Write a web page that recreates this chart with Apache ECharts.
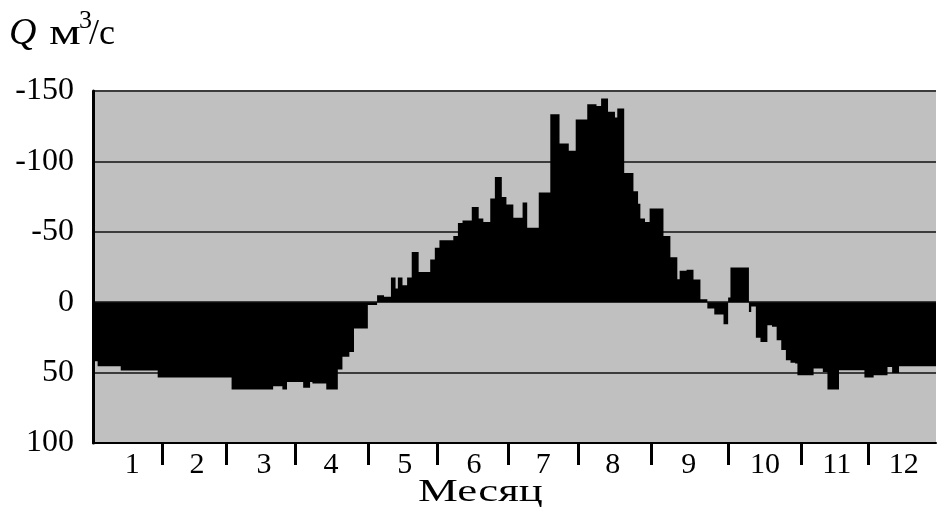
<!DOCTYPE html>
<html>
<head>
<meta charset="utf-8">
<script src="https://cdn.jsdelivr.net/npm/echarts@6/dist/echarts.min.js"></script>
<style>
  html, body { margin: 0; padding: 0; background: #ffffff; }
  #chart { width: 938px; height: 509px; }
</style>
</head>
<body>
<div id="chart"></div>
<script>
// Daily discharge Q, m3/s, one value per day of the year (positive values plot downward)
const jan = [42, 42,
  45.5, 45.5, 45.5, 45.5, 45.5, 45.5, 45.5, 45.5, 45.5, 45.5,
  48.5, 48.5, 48.5, 48.5, 48.5, 48.5, 48.5, 48.5,
  48.5, 48.5, 48.5, 48.5, 48.5, 48.5, 48.5, 48.5,
  53.5, 53.5, 53.5];
const feb = [53.5, 53.5, 53.5, 53.5, 53.5, 53.5, 53.5,
  53.5, 53.5, 53.5, 53.5, 53.5, 53.5, 53.5,
  53.5, 53.5, 53.5, 53.5, 53.5, 53.5, 53.5,
  53.5, 53.5, 53.5, 53.5, 53.5, 53.5, 53.5];
const mar = [53.5,
  62, 62, 62, 62, 62, 62, 62, 62, 62,
  62, 62, 62, 62, 62, 62, 62, 62, 62,
  59.7, 59.7, 59.7, 59.7,
  62, 62,
  56.6, 56.6, 56.6, 56.6, 56.6, 56.6];
const apr = [56.6,
  60.8, 60.8, 60.8,
  56.6,
  57.8, 57.8, 57.8, 57.8, 57.8, 57.8,
  62, 62, 62, 62, 62,
  47.8, 47.8,
  38.8, 38.8, 38.8,
  35.3, 35.3,
  18.7, 18.7, 18.7, 18.7, 18.7, 18.7,
  2];
const may = [2, 2, 2,
  -5, -5, -5,
  -3.8, -3.8, -3.8,
  -17.5, -17.5,
  -9.7,
  -17.5, -17.5,
  -12, -12,
  -17.5, -17.5,
  -35.7, -35.7, -35.7,
  -21.5, -21.5, -21.5, -21.5, -21.5,
  -30.3, -30.3,
  -38.6, -38.6,
  -44];
const jun = [-44, -44, -44, -44, -44,
  -47, -47,
  -56.3, -56.3,
  -58, -58, -58, -58,
  -67.7, -67.7, -67.7,
  -59.4, -59.4,
  -57, -57, -57,
  -73.6, -73.6,
  -89, -89, -89,
  -74.8, -74.8,
  -69.4, -69.4];
const jul = [-69.4,
  -60, -60, -60, -60,
  -70.8, -70.8,
  -52.8, -52.8, -52.8, -52.8, -52.8,
  -78, -78, -78, -78, -78,
  -133.5, -133.5, -133.5, -133.5,
  -112.7, -112.7, -112.7, -112.7,
  -107.5, -107.5, -107.5,
  -129.7, -129.7, -129.7];
const aug = [-129.7, -129.7,
  -140.6, -140.6, -140.6, -140.6,
  -139.4, -139.4,
  -144.7, -144.7, -144.7,
  -135.2, -135.2, -135.2,
  -131.2,
  -137.5, -137.5, -137.5,
  -91.8, -91.8, -91.8, -91.8,
  -78.8, -78.8,
  -70,
  -59.4, -59.4,
  -57, -57,
  -66.5, -66.5];
const sep = [-66.5, -66.5, -66.5, -66.5,
  -47, -47, -47,
  -32, -32, -32,
  -16.3,
  -22.3, -22.3, -22.3,
  -23, -23, -23,
  -16.2, -16.2, -16.2,
  -2.1, -2.1, -2.1,
  4.5, 4.5, 4.5,
  8.8, 8.8, 8.8, 8.8];
const oct = [15.6, 15.6,
  -3.3,
  -24.6, -24.6, -24.6, -24.6, -24.6, -24.6, -24.6, -24.6,
  7,
  3, 3,
  25.3, 25.3,
  28.2, 28.2, 28.2,
  16.3, 16.3,
  17.5, 17.5,
  27, 27,
  34, 34,
  41.2, 41.2,
  43, 43];
const nov = [43.6,
  51.8, 51.8, 51.8, 51.8, 51.8, 51.8, 51.8,
  47, 47, 47, 47,
  49.5, 49.5,
  62, 62, 62, 62, 62,
  48.3, 48.3, 48.3, 48.3, 48.3, 48.3, 48.3, 48.3, 48.3, 48.3, 48.3];
const dec = [53.5, 53.5, 53.5, 53.5,
  51.8, 51.8, 51.8, 51.8, 51.8, 51.8,
  46, 46,
  50.2, 50.2, 50.2,
  45.5, 45.5, 45.5, 45.5, 45.5, 45.5, 45.5, 45.5,
  45.5, 45.5, 45.5, 45.5, 45.5, 45.5, 45.5, 45.5];

const monthLabels = ['1', '2', '3', '4', '5', '6', '7', '8', '9', '10', '11', '12'];
// divider marks between months and month-number positions, in days from 1 January
const monthTickDays = [30, 57.5, 87.5, 119, 149, 180, 210, 241.5, 275, 306.5, 335.5];
const monthLabelDays = [17, 45, 74, 103, 135, 165, 195, 225, 258, 291, 322, 351];
const yTicks = [-150, -100, -50, 0, 50, 100];

const daily = [].concat(jan, feb, mar, apr, may, jun, jul, aug, sep, oct, nov, dec);
const dayNames = daily.map((_, i) => String(i + 1));

const SERIF = '"Liberation Serif", "DejaVu Serif", serif';

const chart = echarts.init(document.getElementById('chart'), null, { renderer: 'canvas' });
chart.setOption({
  animation: false,
  backgroundColor: '#ffffff',
  grid: {
    left: 93, right: 2, top: 91, bottom: 66,
    containLabel: false,
    outerBoundsMode: 'none',
    show: true, backgroundColor: '#c0c0c0', borderWidth: 0
  },
  xAxis: [
    {
      type: 'category',
      data: dayNames,
      position: 'top',
      boundaryGap: true,
      show: false
    },
    {
      type: 'value',
      min: 0,
      max: daily.length,
      position: 'bottom',
      axisLine: { show: true, onZero: false, lineStyle: { color: '#000', width: 2 } },
      axisTick: {
        show: true, inside: false, length: 22,
        customValues: monthTickDays,
        lineStyle: { color: '#000', width: 3 }
      },
      axisLabel: {
        customValues: monthLabelDays,
        formatter: (v) => monthLabels[monthLabelDays.indexOf(v)],
        fontFamily: SERIF, fontSize: 30, color: '#000', margin: 7
      },
      splitLine: { show: false }
    }
  ],
  yAxis: {
    type: 'value',
    inverse: true,
    min: yTicks[0],
    max: yTicks[yTicks.length - 1],
    interval: 50,
    axisLine: { show: true, onZero: false, lineStyle: { color: '#000', width: 3 } },
    axisTick: { show: false },
    axisLabel: { fontFamily: SERIF, fontSize: 32, color: '#000', margin: 19 },
    splitLine: { show: true, lineStyle: { color: '#3c3c3c', width: 2 } }
  },
  series: [{
    type: 'bar',
    xAxisIndex: 0,
    data: daily,
    barCategoryGap: '0%',
    // one combined path for all days, so neighbouring columns merge without seams
    large: true,
    largeThreshold: 100,
    itemStyle: { color: '#000' },
    silent: true
  }],
  graphic: [
    { type: 'text', left: 9, top: 15, style: { text: 'Q', font: 'italic 38px ' + SERIF, fill: '#000' } },
    { type: 'text', left: 49, top: 17, scaleX: 1.4, style: { text: 'м', font: '36px ' + SERIF, fill: '#000' } },
    { type: 'text', left: 79, top: 8, style: { text: '3', font: '26px ' + SERIF, fill: '#000' } },
    { type: 'text', left: 89, top: 17, style: { text: '/с', font: '36px ' + SERIF, fill: '#000' } },
    { type: 'text', left: 418, top: 477, scaleX: 1.4, style: { text: 'Месяц', font: '32px ' + SERIF, fill: '#000' } }
  ]
});
</script>
</body>
</html>
